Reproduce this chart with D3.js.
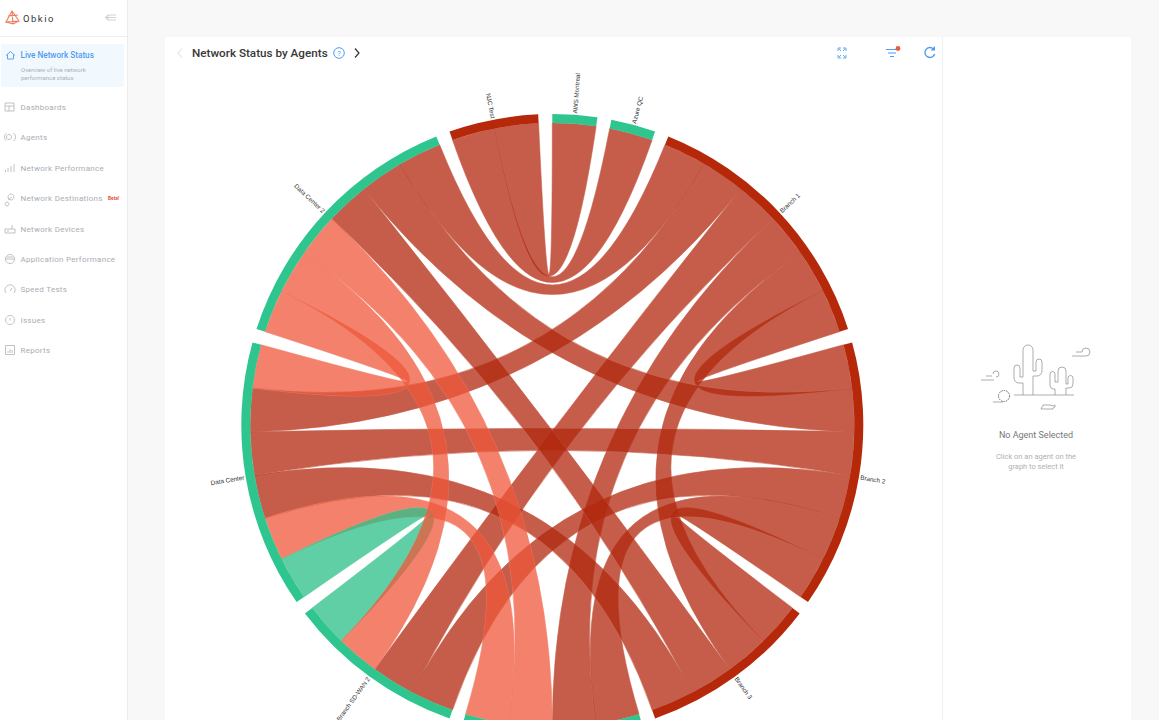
<!DOCTYPE html>
<html>
<head>
<meta charset="utf-8">
<title>Network Status by Agents</title>
<script src="https://cdn.jsdelivr.net/npm/d3@7"></script>
<style>
  html, body { margin: 0; padding: 0; background: #f8f8f8; overflow: hidden; }
  svg { display: block; }
  text { font-family: Roboto, "Noto Sans", sans-serif; }
</style>
</head>
<body>
<div id="svg-container"></div>
<script>
// ----------------------------------------------------------------
// Data
// ----------------------------------------------------------------

// the sixth agent has its label below the fold, so it is not drawn
const agents = ["AWS Montreal", "Azure QC", "Branch 1", "Branch 2", "Branch 3",
  "", "Branch SD-WAN 2", "Data Center", "Data Center 2", "NJC Test"];
const agentStatus = ["ok", "ok", "bad", "bad", "bad", "ok", "ok", "ok", "ok", "bad"];

// every link has the same weight
const linkSource = [0, 1, 2, 2, 2, 2, 2, 2, 3, 3, 3, 3, 3, 4, 4, 5, 5, 6, 6, 7];
const linkTarget = [9, 9, 3, 4, 5, 6, 7, 8, 4, 5, 6, 7, 8, 7, 8, 7, 8, 7, 8, 8];
const linkStatus = ["bad", "bad", "bad", "bad", "bad", "bad", "bad", "bad", "bad", "bad",
  "bad", "bad", "bad", "bad", "bad", "warn", "warn", "ok", "warn", "warn"];

const menuLabels = ["Dashboards", "Agents", "Network Performance", "Network Destinations",
  "Network Devices", "Application Performance", "Speed Tests", "Issues", "Reports"];
const menuRows = [107, 137, 168, 198, 229, 259, 289, 320, 350];

// ----------------------------------------------------------------
// Page
// ----------------------------------------------------------------

const width = 1159;
const height = 720;
const svg = d3.select("#svg-container").append("svg")
  .attr("width", width)
  .attr("height", height);

svg.append("rect").attr("width", width).attr("height", height).attr("fill", "#f8f8f8");
svg.append("rect").attr("x", 165).attr("y", 37).attr("width", 966).attr("height", 683).attr("fill", "#fff");
svg.append("line").attr("x1", 942.5).attr("x2", 942.5).attr("y1", 37).attr("y2", 720).attr("stroke", "#f0f0f0");

// ----------------------------------------------------------------
// Sidebar
// ----------------------------------------------------------------

const grey = "#a9adb4";
const blue = "#4f9cf0";
const side = svg.append("g");
side.append("rect").attr("width", 127).attr("height", height).attr("fill", "#fff");
side.append("line").attr("x1", 127.5).attr("x2", 127.5).attr("y2", height).attr("stroke", "#ececec");
side.append("line").attr("x2", 127).attr("y1", 36.5).attr("y2", 36.5).attr("stroke", "#efefef");
side.append("rect").attr("x", 1).attr("y", 44).attr("width", 123).attr("height", 43).attr("rx", 2).attr("fill", "#f1f8fe");

side.append("path")
  .attr("d", "M6 22L12 11L19 21ZM8 16L18 15M12 11L13 24M6 22L13 24L19 21")
  .attr("fill", "none").attr("stroke", "#ee7c5e").attr("stroke-width", 1.1);
side.append("text").attr("x", 23).attr("y", 21.5).text("Obkio")
  .attr("font-size", 9.5).attr("font-weight", 400).attr("letter-spacing", 1.5).attr("fill", "#333");
side.append("path").attr("d", "M106 17.5h10M108 15h8M108 20h8M105 17.5l3 -2.5v5z")
  .attr("fill", "none").attr("stroke", "#c4c7cc").attr("stroke-width", 0.8);

side.append("path").attr("d", "M6 55.5l4.5 -4l4.5 4M7.5 54.5v4.5h6v-4.5")
  .attr("fill", "none").attr("stroke", blue).attr("stroke-width", 0.9);
side.append("text").attr("x", 20.5).attr("y", 58).text("Live Network Status")
  .attr("font-size", 8.2).attr("font-weight", 500).attr("fill", blue);
side.append("text").attr("x", 21).attr("y", 72).text("Overview of live network")
  .attr("font-size", 6).attr("fill", "#adb1b8");
side.append("text").attr("x", 21).attr("y", 80).text("performance status")
  .attr("font-size", 6).attr("fill", "#adb1b8");

side.selectAll("text.menu")
  .data(menuLabels)
  .join("text")
  .attr("class", "menu")
  .attr("x", 20.5)
  .attr("y", (d, i) => menuRows[i] + 3)
  .attr("font-size", 8)
  .attr("font-weight", 400)
  .attr("letter-spacing", 0.28)
  .attr("fill", grey)
  .text(d => d);

const menuIcons = [
  "M-5 -4h9v8h-9zM-5 -1h9M-1 -1v5",
  "M-1 -2.5a2.5 2.5 0 1 0 .01 0M-3.5 -4a5 5 0 0 0 0 8M3.5 -4a5 5 0 0 1 0 8",
  "M-4.5 4v-2M-2 4v-4M1 4v-6M4 4v-8",
  "M-3 4a2 2 0 1 0 .01 0M1 -4a3 3 0 1 0 .01 0M-2 2L2 -1",
  "M-5 0h10v4h-10zM2 0v-4M-3 2h2",
  "M0 -4.5a4.5 4.5 0 1 0 .01 0M-4.5 0h9M-3 -2h6",
  "M-4 4a5 5 0 1 1 8 0M0 2l2 -3",
  "M0 -4.5a4.5 4.5 0 1 0 .01 0M0 -2v2.5",
  "M-4.5 -4.5h9v9h-9zM-2 3v-2M0 3v-4M2 3v-3"
];
side.selectAll("path.menu-icon")
  .data(menuIcons)
  .join("path")
  .attr("class", "menu-icon")
  .attr("transform", (d, i) => `translate(10,${menuRows[i]})`)
  .attr("d", d => d)
  .attr("fill", "none")
  .attr("stroke", "#aeb2b8")
  .attr("stroke-width", 0.8);

side.append("text").attr("x", 108).attr("y", 200).text("Beta!")
  .attr("font-size", 4.8).attr("font-weight", 700).attr("fill", "#e2533c");

// ----------------------------------------------------------------
// Header of the panel
// ----------------------------------------------------------------

const head = svg.append("g");
head.append("path").attr("d", "M182 48.5l-4 4.5l4 4.5").attr("fill", "none").attr("stroke", "#e2e2e2").attr("stroke-width", 1.1);
head.append("text").attr("x", 192).attr("y", 57).text("Network Status by Agents")
  .attr("font-size", 11.7).attr("font-weight", 500).attr("fill", "#383838");
head.append("circle").attr("cx", 339).attr("cy", 53).attr("r", 5.3).attr("fill", "none").attr("stroke", blue);
head.append("text").attr("x", 339).attr("y", 55.6).attr("text-anchor", "middle").text("?")
  .attr("font-size", 7.5).attr("fill", blue);
head.append("path").attr("d", "M355 48.5l4 4.5l-4 4.5").attr("fill", "none").attr("stroke", "#333").attr("stroke-width", 1.2);
head.append("path")
  .attr("d", "M838 51v-3h3M843 48h3v3M838 55v3h3M843 58h3v-3M839 49l2 2M845 49l-2 2M839 57l2 -2M845 57l-2 -2")
  .attr("fill", "none").attr("stroke", blue).attr("stroke-width", 0.9);
head.append("path").attr("d", "M886 49.5h12M888 53h8M890 56.5h4")
  .attr("fill", "none").attr("stroke", blue).attr("stroke-width", 1.1);
head.append("circle").attr("cx", 898).attr("cy", 48.5).attr("r", 2.4).attr("fill", "#ee5a3c");
head.append("path").attr("d", "M933.5 49a5 5 0 1 0 1.2 5")
  .attr("fill", "none").attr("stroke", blue).attr("stroke-width", 1.4);
head.append("path").attr("d", "M935 46v4.5h-4.5z").attr("fill", blue);

// ----------------------------------------------------------------
// Chord diagram
// ----------------------------------------------------------------

const cx = 552.3;
const cy = 425;
const outerRadius = 311;
const innerRadius = 302;
const toRad = Math.PI / 180;
const groupColor = { ok: "#2ec68e", bad: "#b5290a" };
const ribbonColor = { ok: "#2bc087", warn: "#ef583b", bad: "#b2280e" };

const n = agents.length;
const matrix = d3.range(n).map(() => d3.range(n).map(() => 0));
linkSource.forEach((s, i) => {
  matrix[s][linkTarget[i]] = 1;
  matrix[linkTarget[i]][s] = 1;
});

const chordLayout = d3.chord().padAngle(2.6 * toRad);
const groups = chordLayout(matrix).groups;

// d3.chord keeps subgroups in index order, which twists the ribbons. Walk each
// group going backwards round the circle instead, so neighbours end up side by side
function slotAngle (i, j) {
  const order = d3.range(1, n).map(k => (i - k + n) % n).filter(k => matrix[i][k]);
  const step = (groups[i].endAngle - groups[i].startAngle) / order.length;
  const slot = order.indexOf(j);
  return {
    startAngle: groups[i].startAngle + slot * step,
    endAngle: groups[i].startAngle + (slot + 1) * step
  };
}

const ribbon = d3.ribbon().radius(innerRadius);
const arc = d3.arc().innerRadius(innerRadius).outerRadius(outerRadius);

const chart = svg.append("g").attr("transform", `translate(${cx},${cy})`);

// pale stroke under the fill, it closes the hairlines next to the ring
chart.selectAll("path.link")
  .data(linkSource.map((s, i) => ({ s: s, t: linkTarget[i], status: linkStatus[i] })))
  .join("path")
  .attr("class", "link")
  .attr("d", d => ribbon({ source: slotAngle(d.s, d.t), target: slotAngle(d.t, d.s) }))
  .attr("fill", d => ribbonColor[d.status])
  .attr("stroke", d => d3.interpolateRgb(ribbonColor[d.status], "#fff")(0.3))
  .attr("stroke-width", 0.8)
  .attr("paint-order", "stroke")
  .attr("opacity", 0.75);

chart.selectAll("path.agent")
  .data(groups)
  .join("path")
  .attr("class", "agent")
  .attr("d", arc)
  .attr("fill", d => groupColor[agentStatus[d.index]]);

chart.selectAll("text.agent-label")
  .data(groups.filter(d => agents[d.index]))
  .join("text")
  .attr("class", "agent-label")
  .each(d => { d.mid = (d.startAngle + d.endAngle) / 2; })
  .attr("transform", d => `rotate(${d.mid / toRad - 90}) translate(${outerRadius + 1.5})` + (d.mid > Math.PI ? " rotate(180)" : ""))
  .attr("text-anchor", d => d.mid > Math.PI ? "end" : "start")
  .attr("dy", "0.35em")
  .style("font-family", "Liberation Sans, Arial, sans-serif")
  .attr("font-size", 6.3)
  .attr("fill", "#333")
  .text(d => agents[d.index]);

// ----------------------------------------------------------------
// Empty state on the right
// ----------------------------------------------------------------

const empty = svg.append("g");
empty.append("text").attr("x", 1036).attr("y", 437.5).attr("text-anchor", "middle").text("No Agent Selected")
  .attr("font-size", 9).attr("font-weight", 400).attr("fill", "#777");
empty.append("text").attr("x", 1036).attr("y", 458.5).attr("text-anchor", "middle").text("Click on an agent on the")
  .attr("font-size", 7.5).attr("fill", "#b0b0b0");
empty.append("text").attr("x", 1036).attr("y", 468.5).attr("text-anchor", "middle").text("graph to select it")
  .attr("font-size", 7.5).attr("fill", "#b0b0b0");

const cactusLines = [
  "M1023 395v-12h-4a5 5 0 0 1 -5 -5v-10a3 3 0 0 1 6 0v9h3v-27a5 5 0 0 1 10 0v21h3v-9a3 3 0 0 1 6 0v9a5 5 0 0 1 -5 5h-4v19",
  "M1055 395v-6h-2a4 4 0 0 1 -3 -3v-12a2.5 2.5 0 0 1 5 0v8h3v-11a4 4 0 0 1 8 0v13h2v-6a2.5 2.5 0 0 1 5 0v6a4 4 0 0 1 -4 4h-3v7",
  "M1014 395h60",
  "M1041 409l2 -4h7l3 1l2 -1v2l-2 1v1z",
  "M981 380h13m2 -3a3 3 0 1 0 -3 -3M986 376h6",
  "M1072 356h14a4 4 0 1 0 -4 -4M1076 352h6",
  "M993 402h10"
];
empty.selectAll("path.cactus")
  .data(cactusLines)
  .join("path")
  .attr("class", "cactus")
  .attr("d", d => d)
  .attr("fill", "none")
  .attr("stroke", "#8a8a8a")
  .attr("stroke-width", 0.7);
empty.append("circle").attr("cx", 1004).attr("cy", 396).attr("r", 5.5)
  .attr("fill", "none").attr("stroke", "#666").attr("stroke-width", 1).attr("stroke-dasharray", "1.5 1");
</script>
</body>
</html>
